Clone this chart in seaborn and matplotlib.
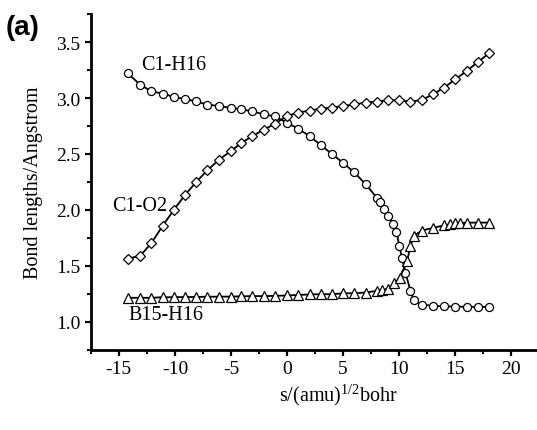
import matplotlib
matplotlib.use("Agg")
import matplotlib.pyplot as plt
import seaborn as sns
from matplotlib.ticker import MultipleLocator

# --- data ---
s_c1h16 = [-14.2, -13.1, -12.1, -11.1, -10.1, -9.1, -8.1, -7.1, -6.1, -5.0, -4.1, -3.1,
           -2.1, -1.1, 0.0, 1.0, 2.0, 3.0, 4.0, 5.0, 6.0, 7.0, 8.0, 8.3, 8.6, 9.0, 9.45,
           9.75, 10.0, 10.25, 10.55, 11.0, 11.3, 12.0, 13.0, 14.0, 15.0, 16.0, 17.0, 18.0]
c1h16 = [3.22, 3.12, 3.06, 3.04, 3.01, 2.99, 2.97, 2.94, 2.93, 2.91, 2.90, 2.88,
         2.855, 2.835, 2.78, 2.725, 2.66, 2.58, 2.50, 2.42, 2.335, 2.23, 2.11, 2.07, 2.01,
         1.95, 1.878, 1.807, 1.68, 1.57, 1.44, 1.277, 1.194, 1.155, 1.143, 1.138, 1.137,
         1.134, 1.134, 1.134]

s_c1o2 = [-14.2, -13.1, -12.1, -11.1, -10.1, -9.1, -8.1, -7.1, -6.1, -5.0, -4.1, -3.1,
          -2.1, -1.1, 0.0, 1.0, 2.0, 3.0, 4.0, 5.0, 6.0, 7.0, 8.0, 9.0, 10.0, 11.0, 12.0,
          13.0, 14.0, 15.0, 16.0, 17.0, 18.0]
c1o2 = [1.566, 1.589, 1.703, 1.857, 2.00, 2.134, 2.25, 2.354, 2.446, 2.527, 2.596, 2.661,
        2.715, 2.77, 2.84, 2.87, 2.888, 2.905, 2.914, 2.929, 2.944, 2.959, 2.968, 2.98,
        2.98, 2.968, 2.982, 3.033, 3.093, 3.167, 3.241, 3.321, 3.399]

s_b15h16 = [-14.2, -13.1, -12.1, -11.1, -10.1, -9.1, -8.1, -7.1, -6.1, -5.0, -4.1, -3.1,
            -2.1, -1.1, 0.0, 1.0, 2.0, 3.0, 4.0, 5.0, 6.0, 7.0, 8.0, 8.5, 9.0, 9.55, 10.05,
            10.7, 11.0, 11.3, 12.0, 13.0, 14.0, 14.5, 15.0, 15.4, 16.0, 17.0, 18.0]
b15h16 = [1.215, 1.215, 1.215, 1.22, 1.22, 1.222, 1.222, 1.225, 1.225, 1.226, 1.228, 1.23,
          1.23, 1.232, 1.236, 1.24, 1.245, 1.247, 1.247, 1.255, 1.256, 1.262, 1.277, 1.286,
          1.295, 1.343, 1.396, 1.54, 1.679, 1.768, 1.815, 1.84, 1.862, 1.872, 1.88, 1.882,
          1.886, 1.887, 1.887]

x_ticks = [-15, -10, -5, 0, 5, 10, 15, 20]
y_ticks = [1.0, 1.5, 2.0, 2.5, 3.0, 3.5]

# --- style ---
sns.set_theme(style="ticks")
plt.rcParams['font.family'] = ['Liberation Serif', 'DejaVu Serif']
plt.rcParams['mathtext.fontset'] = 'custom'
plt.rcParams['mathtext.rm'] = 'Liberation Serif'
plt.rcParams['mathtext.default'] = 'regular'
plt.rcParams['axes.unicode_minus'] = False
plt.rcParams['text.color'] = 'black'
plt.rcParams['axes.labelcolor'] = 'black'

fig = plt.figure(figsize=(5.37, 4.31), dpi=100)
ax = fig.add_axes([0.169, 0.186, 0.831, 0.779])

common = dict(ax=ax, color='black', linewidth=1.3, markerfacecolor='white',
              markeredgecolor='black', markeredgewidth=0.9, sort=False, estimator=None)
sns.lineplot(x=s_c1h16, y=c1h16, marker='o', markersize=5.8, **common)
sns.lineplot(x=s_c1o2, y=c1o2, marker='D', markersize=4.8, **common)
sns.lineplot(x=s_b15h16, y=b15h16, marker='^', markersize=6.5, **common)

ax.set_xlim(-17.5, 22.28)
ax.set_ylim(0.75, 3.75)
ax.xaxis.set_minor_locator(MultipleLocator(2.5))
ax.yaxis.set_minor_locator(MultipleLocator(0.25))
ax.set_xticks(x_ticks)
ax.set_xticklabels([str(t) for t in x_ticks])
ax.set_yticks(y_ticks)
ax.set_yticklabels([f'{t:.1f}' for t in y_ticks])

for side in ['top', 'right']:
    ax.spines[side].set_visible(False)
for side in ['left', 'bottom']:
    ax.spines[side].set_linewidth(2.0)
    ax.spines[side].set_color('black')
ax.tick_params(which='major', direction='out', length=4.5, width=1.6, labelsize=14,
               colors='black', pad=3)
ax.tick_params(which='minor', direction='out', length=3, width=1.4, colors='black')

ax.set_ylabel('Bond lengths/Angstrom', fontsize=14.5)
ax.yaxis.set_label_coords(-0.107, 0.5)
ax.set_xlabel('s/(amu)$^{1/2}$bohr', fontsize=14.5)
ax.xaxis.set_label_coords(0.554, -0.095)

# curve labels
ax.text(-10.1, 3.30, 'C1-H16', fontsize=14.5, ha='center', va='center')
ax.text(-13.1, 2.04, 'C1-O2', fontsize=14.5, ha='center', va='center')
ax.text(-10.8, 1.07, 'B15-H16', fontsize=14.5, ha='center', va='center')

fig.text(0.01, 0.965, '(a)', fontsize=20, fontweight='bold',
         family=['Liberation Sans', 'DejaVu Sans'], ha='left', va='top')

fig.savefig('out.png', dpi=100)
